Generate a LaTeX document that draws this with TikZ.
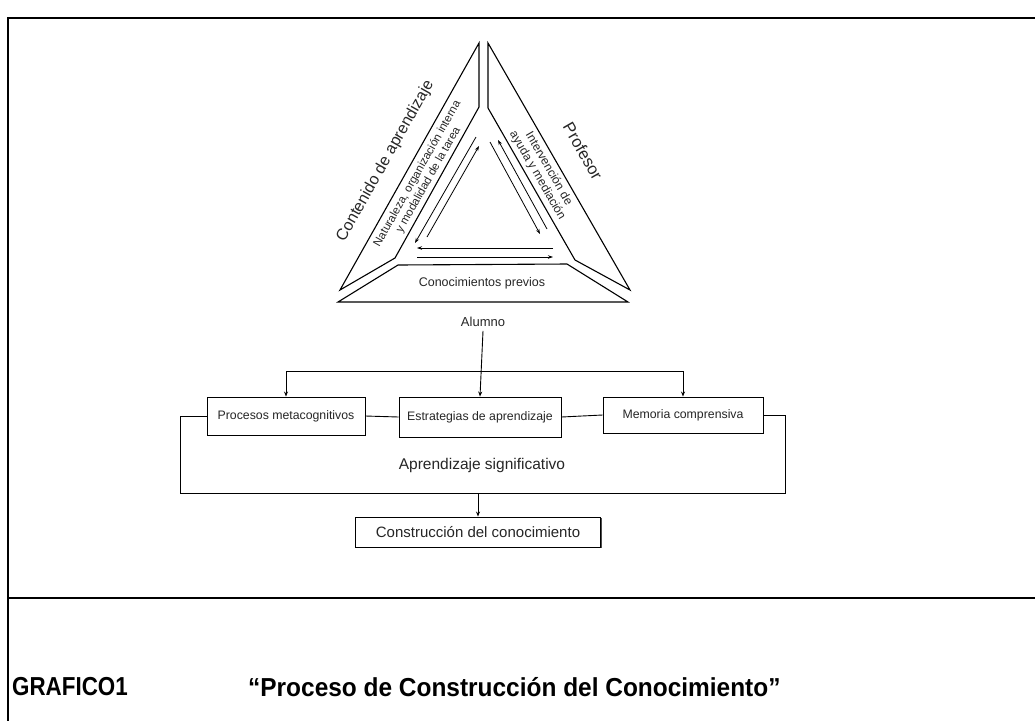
\documentclass[tikz,border=0pt]{standalone}
\usepackage{fontspec}
\usepackage{graphicx}
\setmainfont{Liberation Sans}
\usetikzlibrary{arrows.meta,calc,shadows}
\begin{document}
\begin{tikzpicture}[x=1pt,y=-1pt,
  band/.style={draw=black, line width=1.1pt, line join=miter},
  tarrow/.style={line width=0.8pt, -{Stealth[length=5pt,width=3.5pt]}},
  flow/.style={line width=0.9pt, -{Stealth[length=5pt,width=4pt]}},
  link/.style={line width=0.9pt},
  lbl/.style={text=black!85, inner sep=0pt},
  box/.style={draw, line width=0.9pt, fill=white, text=black!85, inner sep=0pt,
    font=\fontsize{12.3}{14}\selectfont,
    drop shadow={shadow xshift=1.3pt, shadow yshift=-1.3pt, fill=black!70, opacity=1}},
]
\useasboundingbox (0,0) rectangle (1035,721);
% frame
\draw[line width=1.3pt] (1035,18) -- (8,18) -- (8,721);
\draw[line width=1.8pt] (8,598) -- (1035,598);

% triangle bands
\draw[band] (340,290) -- (479,43) -- (479,107) -- (395,258) -- cycle;
\draw[band] (630,290) -- (488,43) -- (488,108) -- (575,260) -- cycle;
\draw[band] (338,302) -- (398,265) -- (567,264) -- (628,302) -- cycle;

% arrows inside the triangle
\draw[tarrow] (476,137) -- (415,243);
\draw[tarrow] (427,237) -- (479,146);
\draw[tarrow] (547,229) -- (498,140);
\draw[tarrow] (490,142) -- (540,234);
\draw[tarrow] (553,248) -- (417,248);
\draw[tarrow] (417,257) -- (553,257);

% triangle labels
\node[lbl, rotate=60.6, font=\fontsize{16}{20}\selectfont] (contenido) at (385.5,161) {Contenido de aprendizaje};
\node[lbl, rotate=60.6, align=center, font=\fontsize{11.5}{12.7}\selectfont] (naturaleza) at (423,177) {Naturaleza, organización interna\\y modalidad de la tarea};
\node[lbl, rotate=-60, font=\fontsize{16.5}{20}\selectfont] (profesor) at (583,151) {Profesor};
\node[lbl, rotate=-60, align=center, font=\fontsize{12}{13}\selectfont] (intervencion) at (543,172) {Intervención de\\ayuda y mediación};
\node[lbl, font=\fontsize{12.5}{14}\selectfont] (previos) at (482,283) {Conocimientos previos};
\node[lbl, font=\fontsize{13}{15}\selectfont] (alumno) at (483,322) {Alumno};

% boxes
\node[box, minimum width=158pt, minimum height=38pt] (proc) at (286,416) {Procesos metacognitivos};
\node[box, minimum width=162pt, minimum height=40pt] (estr) at (480,417) {Estrategias de aprendizaje};
\node[box, minimum width=160pt, minimum height=36pt] (mem) at (683,415) {Memoria comprensiva};

\coordinate (hl) at (480,371);
\draw[flow] ([yshift=-4pt]alumno.south) -- (estr.north);
\draw[flow] (hl) -| (proc.north);
\draw[flow] (hl) -| (mem.north);
\draw[link] (proc.east) -- (estr.west);
\draw[link] (estr.east) -- (mem.west);

\coordinate (bl) at (180,493);
\coordinate (br) at (785,493);
\draw[link] (proc.west) -| (bl) -- (br) |- (mem.east);
\node[lbl, font=\fontsize{15.5}{18}\selectfont] (aprend) at (482,465) {Aprendizaje significativo};

\node[box, font=\fontsize{15}{18}\selectfont, minimum width=245pt, minimum height=30pt] (cons) at (478,532) {Construcción del conocimiento};
\draw[flow] (cons.north |- bl) -- (cons.north);

% caption
\node[anchor=west, inner sep=0pt, font=\fontsize{26}{30}\bfseries\selectfont] (graf) at (12,687) {\scalebox{0.86}[1]{GRAFICO1}};
\node[anchor=west, inner sep=0pt, font=\fontsize{26}{30}\bfseries\selectfont] (title) at (248,687) {\scalebox{0.94}[1]{“Proceso de Construcción del Conocimiento”}};
\end{tikzpicture}
\end{document}
